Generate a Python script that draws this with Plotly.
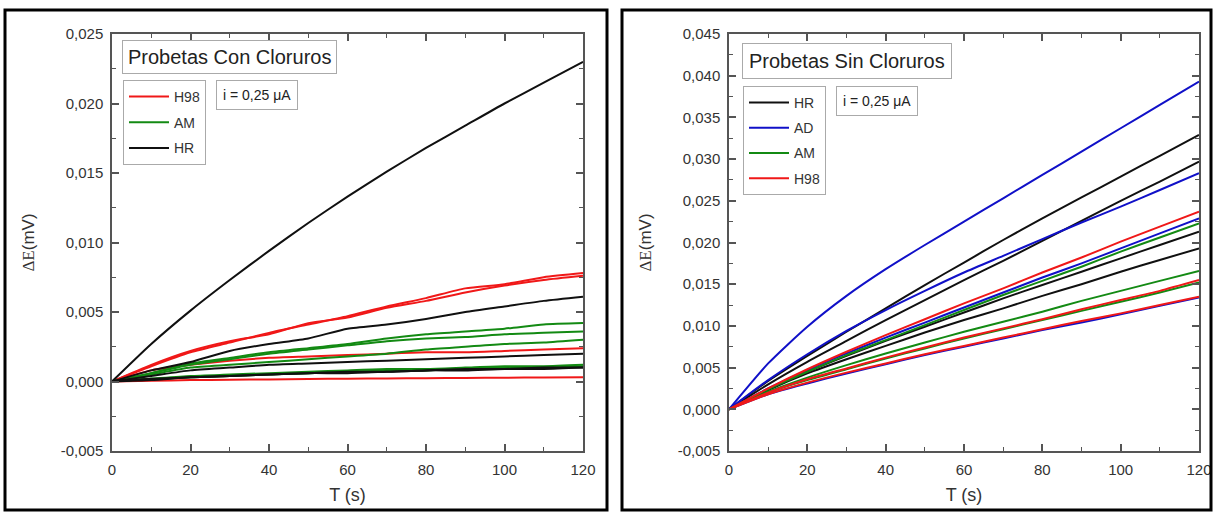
import plotly.graph_objects as go

# Time axis (s)
t = [0, 10, 20, 30, 40, 50, 60, 70, 80, 90, 100, 110, 120]

# ---- Probetas con cloruros: ΔE (mV) ----
con_h98_a = [0, 0.0011, 0.0021, 0.0028, 0.0035, 0.0041, 0.0047, 0.0054, 0.0060, 0.0067, 0.0070, 0.0075, 0.0078]
con_h98_b = [0, 0.0012, 0.0022, 0.0029, 0.0034, 0.0042, 0.0046, 0.0053, 0.0058, 0.0064, 0.0069, 0.0073, 0.0076]
con_h98_c = [0, 0.0008, 0.0012, 0.0015, 0.0017, 0.0018, 0.0019, 0.0020, 0.0021, 0.0021, 0.0022, 0.0023, 0.0024]
con_h98_d = [0, 0.00005, 0.0001, 0.00013, 0.00015, 0.00018, 0.0002, 0.00022, 0.00024, 0.00026, 0.00027, 0.00029, 0.0003]

con_am_a = [0, 0.0006, 0.0013, 0.0017, 0.0021, 0.0024, 0.0027, 0.0031, 0.0034, 0.0036, 0.0038, 0.0041, 0.0042]
con_am_b = [0, 0.0006, 0.0012, 0.0016, 0.0020, 0.0023, 0.0026, 0.0029, 0.0031, 0.0032, 0.0034, 0.0035, 0.0036]
con_am_c = [0, 0.0005, 0.0010, 0.0012, 0.0014, 0.0016, 0.0018, 0.0020, 0.0023, 0.0025, 0.0027, 0.0028, 0.0030]
con_am_d = [0, 0.0002, 0.0003, 0.0004, 0.0005, 0.0006, 0.0007, 0.0008, 0.0008, 0.0009, 0.0010, 0.0010, 0.0011]
con_am_e = [0, 0.0002, 0.0004, 0.0005, 0.0006, 0.0007, 0.0008, 0.0009, 0.0009, 0.0010, 0.0011, 0.0011, 0.0012]

con_hr_a = [0, 0.0027, 0.0051, 0.0073, 0.0094, 0.0114, 0.0133, 0.0151, 0.0168, 0.0184, 0.0200, 0.0215, 0.0230]
con_hr_b = [0, 0.0008, 0.0014, 0.0022, 0.0027, 0.0031, 0.0038, 0.0041, 0.0045, 0.0050, 0.0054, 0.0058, 0.0061]
con_hr_c = [0, 0.0004, 0.0008, 0.0010, 0.0012, 0.0013, 0.0014, 0.0015, 0.0016, 0.0017, 0.0018, 0.0019, 0.0020]
con_hr_d = [0, 0.0001, 0.0003, 0.0004, 0.0005, 0.0006, 0.0006, 0.0007, 0.0008, 0.0008, 0.0009, 0.0009, 0.0010]
con_hr_e = [0, 0.0002, 0.0003, 0.0004, 0.0005, 0.0006, 0.0007, 0.0007, 0.0008, 0.0009, 0.0009, 0.0010, 0.0010]

# ---- Probetas sin cloruros: ΔE (mV) ----
sin_hr_a = [0, 0.0034, 0.0064, 0.0093, 0.0121, 0.0149, 0.0176, 0.0203, 0.0229, 0.0254, 0.0279, 0.0304, 0.0329]
sin_hr_b = [0, 0.0030, 0.0057, 0.0082, 0.0107, 0.0131, 0.0155, 0.0178, 0.0202, 0.0226, 0.0250, 0.0273, 0.0297]
sin_hr_c = [0, 0.0024, 0.0045, 0.0064, 0.0082, 0.0099, 0.0116, 0.0133, 0.0149, 0.0165, 0.0181, 0.0197, 0.0213]
sin_hr_d = [0, 0.0023, 0.0043, 0.0060, 0.0076, 0.0092, 0.0107, 0.0121, 0.0136, 0.0150, 0.0165, 0.0179, 0.0193]

sin_ad_a = [0, 0.0055, 0.0099, 0.0136, 0.0168, 0.0197, 0.0225, 0.0253, 0.0281, 0.0309, 0.0337, 0.0365, 0.0393]
sin_ad_b = [0, 0.0035, 0.0066, 0.0094, 0.0119, 0.0142, 0.0164, 0.0184, 0.0204, 0.0224, 0.0243, 0.0263, 0.0283]
sin_ad_c = [0, 0.0025, 0.0047, 0.0067, 0.0086, 0.0104, 0.0122, 0.0140, 0.0158, 0.0175, 0.0193, 0.0211, 0.0229]
sin_ad_d = [0, 0.0018, 0.0031, 0.0043, 0.0054, 0.0065, 0.0075, 0.0085, 0.0095, 0.0104, 0.0114, 0.0124, 0.0134]

sin_am_a = [0, 0.0024, 0.0045, 0.0065, 0.0083, 0.0101, 0.0119, 0.0137, 0.0154, 0.0171, 0.0189, 0.0206, 0.0223]
sin_am_b = [0, 0.0021, 0.0038, 0.0053, 0.0067, 0.0080, 0.0093, 0.0105, 0.0117, 0.0130, 0.0142, 0.0154, 0.0166]
sin_am_c = [0, 0.0020, 0.0035, 0.0048, 0.0061, 0.0073, 0.0085, 0.0096, 0.0107, 0.0118, 0.0129, 0.0140, 0.0152]

sin_h98_a = [0, 0.0025, 0.0048, 0.0069, 0.0089, 0.0108, 0.0127, 0.0145, 0.0164, 0.0182, 0.0201, 0.0219, 0.0237]
sin_h98_b = [0, 0.0020, 0.0036, 0.0049, 0.0062, 0.0074, 0.0086, 0.0097, 0.0108, 0.0120, 0.0131, 0.0142, 0.0155]
sin_h98_c = [0, 0.0018, 0.0032, 0.0044, 0.0055, 0.0066, 0.0076, 0.0086, 0.0096, 0.0106, 0.0115, 0.0125, 0.0135]

# Tick labels (decimal comma)
x_ticks = [0, 20, 40, 60, 80, 100, 120]
y_ticks_con = [-0.005, 0.0, 0.005, 0.010, 0.015, 0.020, 0.025]
y_ticks_sin = [-0.005, 0.0, 0.005, 0.010, 0.015, 0.020, 0.025, 0.030, 0.035, 0.040, 0.045]


def fmt(v):
    return ("%.3f" % v).replace(".", ",")


RED = "#f01818"
GREEN = "#138a13"
BLUE = "#1010c8"
BLACK = "#101010"

W, H = 1215, 513
SANS = "Liberation Sans, Arial, sans-serif"


def px(x):
    return x / W


def py(y):
    return (H - y) / H


fig = go.Figure()


def add(series_list, color, name, xa, ya, legend):
    for i, s in enumerate(series_list):
        fig.add_trace(go.Scatter(
            x=t, y=s, mode="lines", name=name,
            line=dict(color=color, width=2, shape="spline", smoothing=0.6),
            xaxis=xa, yaxis=ya, legend=legend, legendgroup=legend + name,
            showlegend=(i == 0), hoverinfo="skip"))


add([con_h98_a, con_h98_b, con_h98_c, con_h98_d], RED, "H98", "x", "y", "legend")
add([con_am_a, con_am_b, con_am_c, con_am_d, con_am_e], GREEN, "AM", "x", "y", "legend")
add([con_hr_a, con_hr_b, con_hr_c, con_hr_d, con_hr_e], BLACK, "HR", "x", "y", "legend")

add([sin_hr_a, sin_hr_b, sin_hr_c, sin_hr_d], BLACK, "HR", "x2", "y2", "legend2")
add([sin_ad_a, sin_ad_b, sin_ad_c, sin_ad_d], BLUE, "AD", "x2", "y2", "legend2")
add([sin_am_a, sin_am_b, sin_am_c], GREEN, "AM", "x2", "y2", "legend2")
add([sin_h98_a, sin_h98_b, sin_h98_c], RED, "H98", "x2", "y2", "legend2")

axis_common = dict(
    showline=True, linecolor="#555555", linewidth=1.5, mirror="ticks",
    ticks="inside", ticklen=7, tickwidth=1.5, tickcolor="#555555",
    showgrid=False, zeroline=False, ticklabelstandoff=4, automargin=False,
    tickfont=dict(family=SANS, size=15, color="#333333"),
    minor=dict(ticks="inside", ticklen=4, tickwidth=1.3, tickcolor="#555555"),
)

xt = dict(text="T (s)", font=dict(family=SANS, size=18, color="#333333"), standoff=12)
yt_text = ('<span style="font-family:Liberation Serif, Times New Roman, serif">ΔE</span>'
           '(mV)')
yt = dict(text=yt_text, font=dict(family=SANS, size=17, color="#333333"), standoff=22)

legend_common = dict(
    xanchor="left", yanchor="top", bordercolor="#aaaaaa", borderwidth=1,
    bgcolor="white", font=dict(family=SANS, size=14, color="#333333"),
    traceorder="grouped", itemwidth=40,
)

fig.update_layout(
    width=W, height=H,
    margin=dict(l=0, r=0, t=0, b=0, pad=0, autoexpand=False),
    paper_bgcolor="white", plot_bgcolor="white",
    font=dict(family=SANS, color="#333333"),
    xaxis=dict(domain=[px(112), px(583)], range=[0, 120], anchor="y",
               tickvals=x_ticks, ticktext=[str(v) for v in x_ticks],
               minor_dtick=10, minor_tick0=0, title=xt, **axis_common),
    yaxis=dict(domain=[py(451), py(34)], range=[-0.005, 0.025], anchor="x",
               tickvals=y_ticks_con, ticktext=[fmt(v) for v in y_ticks_con],
               minor_dtick=0.0025, minor_tick0=0, title=yt, **axis_common),
    xaxis2=dict(domain=[px(729), px(1199)], range=[0, 120], anchor="y2",
                tickvals=x_ticks, ticktext=[str(v) for v in x_ticks],
                minor_dtick=10, minor_tick0=0, title=xt, **axis_common),
    yaxis2=dict(domain=[py(451), py(34)], range=[-0.005, 0.045], anchor="x2",
                tickvals=y_ticks_sin, ticktext=[fmt(v) for v in y_ticks_sin],
                minor_dtick=0.0025, minor_tick0=0, title=yt, **axis_common),
    legend=dict(x=px(123), y=py(80), tracegroupgap=4.5, **legend_common),
    legend2=dict(x=px(743), y=py(86), tracegroupgap=4, **legend_common),
    showlegend=True,
)

# Outer frames around each panel
for x0, x1 in [(5, 607), (622, 1211)]:
    fig.add_shape(type="rect", xref="paper", yref="paper",
                  x0=px(x0), x1=px(x1), y0=py(510), y1=py(10),
                  line=dict(color="black", width=3), fillcolor="rgba(0,0,0,0)")

# Title and current boxes
boxes = [
    ("Probetas Con Cloruros", 122, 40, 20, 5),
    ("i = 0,25 μA", 216, 80, 14, 6),
    ("Probetas Sin Cloruros", 742, 43, 20, 6),
    ("i = 0,25 μA", 836, 86, 14, 6),
]
for text, x, y, size, pad in boxes:
    fig.add_annotation(text=text, xref="paper", yref="paper", x=px(x), y=py(y),
                       xanchor="left", yanchor="top", showarrow=False,
                       font=dict(family=SANS, size=size, color="#222222"),
                       bordercolor="#aaaaaa", borderwidth=1, borderpad=pad,
                       bgcolor="white")

fig.write_html("out.html")
